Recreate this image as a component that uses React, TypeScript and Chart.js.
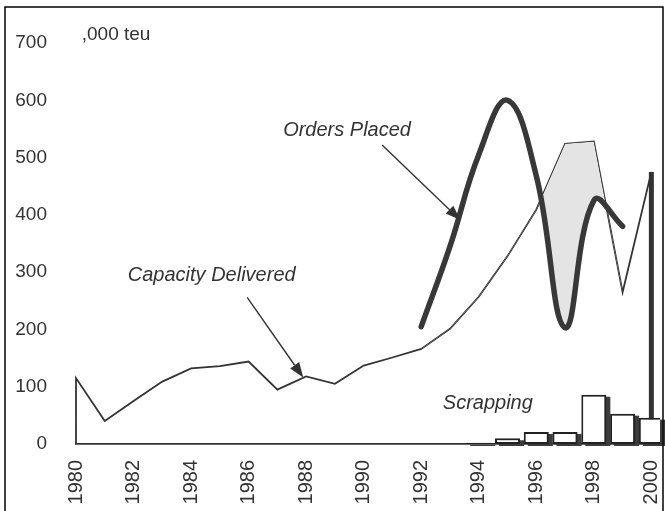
import React, { useEffect, useRef } from "react";
import { Chart, registerables } from "chart.js";

Chart.register(...registerables);

// ---- data ----
const capYears = [1980, 1981, 1982, 1983, 1984, 1985, 1986, 1987, 1988, 1989, 1990, 1991, 1992, 1993, 1994, 1995, 1996, 1997, 1998, 1999, 2000];
const capValues = [115, 40, 75, 109, 132, 136, 144, 95, 118, 105, 137, 151, 166, 201, 257, 328, 409, 524, 528, 265, 475];
const orderYears = [1992, 1993, 1994, 1995, 1996, 1997, 1998, 1999];
const orderValues = [205, 345, 505, 600, 468, 203, 425, 380];
const scrapYears = [1994, 1995, 1996, 1997, 1998, 1999, 2000];
const scrapValues = [2, 10, 21, 21, 86, 53, 46];
const yTickValues = [0, 100, 200, 300, 400, 500, 600, 700];
const xTickYears = [1980, 1982, 1984, 1986, 1988, 1990, 1992, 1994, 1996, 1998, 2000];
const unitLabel = ",000 teu";
const ordersLabel = "Orders Placed";
const capacityLabel = "Capacity Delivered";
const scrapLabel = "Scrapping";

const INK = "#333333";
const FONT = '"Liberation Sans", Arial, Helvetica, sans-serif';

function drawArrow(ctx: CanvasRenderingContext2D, x0: number, y0: number, x1: number, y1: number) {
  const ang = Math.atan2(y1 - y0, x1 - x0);
  const len = 15;
  const half = 5.5;
  const bx = x1 - len * Math.cos(ang);
  const by = y1 - len * Math.sin(ang);
  ctx.beginPath();
  ctx.moveTo(x0, y0);
  ctx.lineTo(bx, by);
  ctx.lineWidth = 1.4;
  ctx.strokeStyle = INK;
  ctx.stroke();
  ctx.beginPath();
  ctx.moveTo(x1, y1);
  ctx.lineTo(bx + half * Math.sin(ang), by - half * Math.cos(ang));
  ctx.lineTo(bx - half * Math.sin(ang), by + half * Math.cos(ang));
  ctx.closePath();
  ctx.fillStyle = INK;
  ctx.fill();
}

const barShadow = {
  id: "barShadow",
  beforeDatasetDraw(chart: any, args: any) {
    const meta = args.meta;
    if (meta.type !== "bar") return;
    const ctx = chart.ctx;
    ctx.save();
    ctx.fillStyle = "#3c3c3c";
    meta.data.forEach((el: any) => {
      const p = el.getProps(["x", "y", "base", "width"], true);
      const top = Math.min(p.y, p.base);
      const h = Math.abs(p.base - p.y);
      ctx.fillRect(p.x - p.width / 2 + 4, top + 2, p.width, h);
    });
    ctx.restore();
  },
};

const annotations = {
  id: "annotations",
  afterDraw(chart: any) {
    const { ctx, scales } = chart;
    const xs = scales.x;
    const ys = scales.y;
    const px = (v: number) => xs.getPixelForValue(v);
    const py = (v: number) => ys.getPixelForValue(v);
    ctx.save();
    ctx.fillStyle = INK;
    ctx.textBaseline = "middle";
    ctx.textAlign = "left";
    ctx.font = `19px ${FONT}`;
    ctx.fillText(unitLabel, px(1980.2), py(714));
    ctx.font = `italic 20px ${FONT}`;
    ctx.fillText(ordersLabel, px(1987.2), py(548));
    ctx.fillText(capacityLabel, px(1981.8), py(294));
    ctx.fillText(scrapLabel, px(1992.75), py(71));
    drawArrow(ctx, px(1990.64), py(522), px(1993.36), py(391));
    drawArrow(ctx, px(1985.95), py(256), px(1987.9), py(116));
    // outer frame
    ctx.lineWidth = 1.6;
    ctx.strokeStyle = "#111";
    ctx.strokeRect(5, 7, 658, 530);
    ctx.restore();
  },
};

export default function App() {
  const ref = useRef<HTMLCanvasElement | null>(null);

  useEffect(() => {
    if (!ref.current) return;
    const capData = [
      { x: capYears[0], y: 0 },
      ...capYears.map((x, i) => ({ x, y: capValues[i] })),
      { x: capYears[capYears.length - 1], y: 0 },
    ];
    const lastSeg = capData.length - 2;
    const chart = new Chart(ref.current, {
      type: "line",
      data: {
        datasets: [
          {
            type: "bar",
            label: scrapLabel,
            data: scrapYears.map((x, i) => ({ x, y: scrapValues[i] })),
            backgroundColor: "#ffffff",
            borderColor: "#222",
            borderWidth: 2,
            borderSkipped: false,
            barPercentage: 0.87,
            categoryPercentage: 1,
            order: 0,
          } as any,
          {
            type: "line",
            label: capacityLabel,
            data: capData,
            borderColor: INK,
            borderWidth: 1.8,
            pointRadius: 0,
            tension: 0,
            fill: false,
            clip: false,
            segment: {
              borderWidth: (c: any) => (c.p0DataIndex === lastSeg ? 5 : 1.8),
            },
            order: 2,
          } as any,
          {
            type: "line",
            label: ordersLabel,
            data: orderYears.map((x, i) => ({ x, y: orderValues[i] })),
            borderColor: "#383838",
            borderWidth: 5.5,
            borderCapStyle: "round",
            borderJoinStyle: "round",
            pointRadius: 0,
            tension: 0.42,
            fill: { target: 1, above: "rgba(0,0,0,0)", below: "#e4e4e4" },
            order: 1,
          } as any,
        ],
      },
      options: {
        animation: false,
        responsive: false,
        devicePixelRatio: 1,
        events: [],
        layout: { padding: { left: 4, top: 43, right: 5, bottom: 0 } },
        plugins: {
          legend: { display: false },
          tooltip: { enabled: false },
        },
        scales: {
          x: {
            type: "linear",
            offset: false,
            min: 1980,
            max: 2000.3,
            afterFit: (s: any) => {
              s.height = 67;
              s.paddingLeft = 0;
              s.paddingRight = 0;
            },
            afterBuildTicks: (s: any) => {
              s.ticks = xTickYears.map((v) => ({ value: v }));
            },
            ticks: {
              autoSkip: false,
              minRotation: 90,
              maxRotation: 90,
              padding: 16,
              color: INK,
              font: { family: FONT, size: 20 },
              callback: (v: any) => String(v),
            },
            grid: { display: false, drawTicks: false, offset: false },
            border: { display: true, color: INK, width: 1.8 },
          },
          y: {
            type: "linear",
            min: 0,
            max: 700,
            afterFit: (s: any) => {
              s.width = 72;
              s.paddingTop = 0;
              s.paddingBottom = 0;
            },
            afterBuildTicks: (s: any) => {
              s.ticks = yTickValues.map((v) => ({ value: v }));
            },
            ticks: {
              padding: 29,
              color: INK,
              font: { family: FONT, size: 19 },
              callback: (v: any) => String(v),
            },
            grid: { display: false, drawTicks: false },
            border: { display: false },
          },
        },
      } as any,
      plugins: [barShadow, annotations],
    });
    return () => chart.destroy();
  }, []);

  return (
    <div style={{ position: "absolute", left: 0, top: 0, width: 665, height: 511, background: "#fff" }}>
      <canvas ref={ref} width={665} height={511} style={{ display: "block" }} />
    </div>
  );
}
